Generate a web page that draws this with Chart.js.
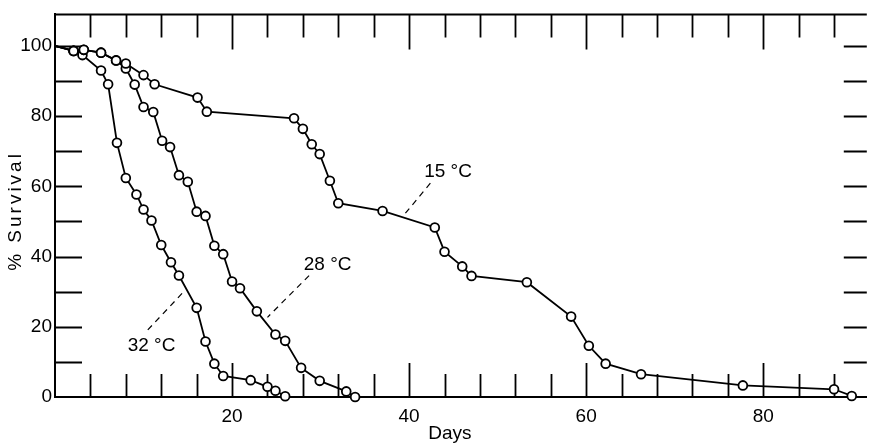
<!DOCTYPE html>
<html><head><meta charset="utf-8">
<script src="https://cdn.jsdelivr.net/npm/chart.js@4"></script>
<style>html,body{margin:0;padding:0;background:#fff}#wrap{width:873px;height:445px;position:relative}</style>
</head><body><div id="wrap"><canvas id="c" width="873" height="445"></canvas></div>
<script>
const seriesNames = ['15 °C', '28 °C', '32 °C'];
const days15 = [0,2.1,3.25,5.2,6.9,8.0,10.0,11.25,16.1,17.15,27.0,28.0,29.0,29.9,31.05,32.0,37.0,42.9,44.0,46.0,47.05,53.3,58.3,60.3,62.2,66.2,77.7,88.0,90.0];
const surv15 = [100,98.6,98.9,98.1,95.9,95.0,91.7,89.1,85.3,81.3,79.4,76.4,72.0,69.2,61.6,55.2,53.0,48.3,41.4,37.2,34.5,32.7,22.9,14.6,9.5,6.5,3.3,2.2,0.3];
const days28 = [0,2.1,3.25,5.2,6.9,8.0,9.0,10.0,11.1,12.1,13.0,14.0,15.0,16.0,17.0,18.0,19.0,20.0,20.9,22.8,24.9,26.0,27.8,29.9,32.9,33.9];
const surv28 = [100,98.6,98.9,98.1,95.9,93.6,89.0,82.6,81.2,73.0,71.2,63.2,61.3,52.8,51.6,43.1,40.7,32.9,31.0,24.4,17.8,16.0,8.3,4.6,1.6,0];
const days32 = [0,2.1,3.1,5.2,6.0,7.0,8.0,9.2,10.0,10.9,12.0,13.1,14.0,16.0,17.0,18.0,19.0,22.1,24.0,24.9,26.0];
const surv32 = [100,98.6,97.4,93.0,89.1,72.4,62.4,57.7,53.4,50.3,43.3,38.4,34.6,25.4,15.8,9.5,6.0,4.8,2.9,1.8,0.2];
const xTickLabels = ['20', '40', '60', '80'];
const yTickLabels = ['0', '20', '40', '60', '80', '100'];
const xAxisTitle = 'Days';
const yAxisTitle = '% Survival';

const FONT = '"Liberation Sans", Arial, sans-serif';

function makeSet(label, xs, ys) {
  return {
    label: label,
    data: xs.map((x, i) => ({x: x, y: ys[i]})),
    borderColor: '#000',
    borderWidth: 1.8,
    pointRadius: xs.map((x, i) => i === 0 ? 0 : 4.4),
    pointBackgroundColor: '#fff',
    pointBorderColor: '#000',
    pointBorderWidth: 1.8,
    tension: 0,
    fill: false,
    clip: false
  };
}

// annotation placement (data units) for the curve labels
const annot = [
  {text: seriesNames[0], tx: 44.4, ty: 64.3, x1: 42.4, y1: 60.9, x2: 39.5, y2: 52.1},
  {text: seriesNames[1], tx: 30.8, ty: 37.7, x1: 28.7, y1: 34.6, x2: 24.0, y2: 22.7},
  {text: seriesNames[2], tx: 10.9, ty: 14.7, x1: 14.35, y1: 29.5, x2: 10.1, y2: 18.1}
];

const framePlugin = {
  id: 'frame',
  beforeDatasetsDraw(chart) {
    const {ctx, chartArea: a, scales: {x: xs, y: ys}} = chart;
    ctx.save();
    ctx.strokeStyle = '#000';
    ctx.lineCap = 'butt';
    ctx.lineWidth = 2;
    ctx.beginPath(); ctx.moveTo(a.left - 1, a.top); ctx.lineTo(a.right, a.top); ctx.stroke();
    ctx.lineWidth = 1.8;
    for (let d = 4; d <= xs.max; d += 4) {
      const px = Math.round(xs.getPixelForValue(d)) + 0.5;
      const major = d % 20 === 0;
      ctx.beginPath();
      ctx.moveTo(px, a.bottom); ctx.lineTo(px, a.bottom - (major ? 34 : 23));
      ctx.moveTo(px, a.top); ctx.lineTo(px, a.top + (major ? 35 : 23));
      ctx.stroke();
    }
    for (let v = 10; v <= 100; v += 10) {
      const py = Math.round(ys.getPixelForValue(v)) + 0.5;
      ctx.beginPath();
      ctx.moveTo(a.left, py); ctx.lineTo(a.left + 27, py);
      ctx.moveTo(a.right - 23, py); ctx.lineTo(a.right, py);
      ctx.stroke();
    }
    ctx.restore();
  },
  afterDraw(chart) {
    const {ctx, chartArea: a, scales: {x: xs, y: ys}} = chart;
    ctx.save();
    ctx.fillStyle = '#000';
    ctx.strokeStyle = '#000';
    ctx.font = '19px ' + FONT;
    ctx.textAlign = 'center';
    ctx.textBaseline = 'middle';
    annot.forEach(n => {
      ctx.fillText(n.text, xs.getPixelForValue(n.tx), ys.getPixelForValue(n.ty));
      ctx.setLineDash([6, 5]);
      ctx.lineWidth = 1.2;
      ctx.beginPath();
      ctx.moveTo(xs.getPixelForValue(n.x1), ys.getPixelForValue(n.y1));
      ctx.lineTo(xs.getPixelForValue(n.x2), ys.getPixelForValue(n.y2));
      ctx.stroke();
      ctx.setLineDash([]);
    });
    ctx.textBaseline = 'alphabetic';
    ctx.fillText(xAxisTitle, xs.getPixelForValue(44.6), a.bottom + 42);
    ctx.translate(21, ys.getPixelForValue(53));
    ctx.rotate(-Math.PI / 2);
    ctx.letterSpacing = '3px';
    ctx.fillText(yAxisTitle, 0, 0);
    ctx.restore();
  }
};

new Chart(document.getElementById('c'), {
  type: 'line',
  data: {datasets: [makeSet(seriesNames[0], days15, surv15), makeSet(seriesNames[1], days28, surv28), makeSet(seriesNames[2], days32, surv32)]},
  options: {
    responsive: false,
    animation: false,
    devicePixelRatio: 1,
    layout: {padding: {top: 12, right: 0, left: 0, bottom: 0}},
    plugins: {legend: {display: false}, tooltip: {enabled: false}, title: {display: false}},
    scales: {
      x: {
        type: 'linear', min: 0, max: 91.7,
        grid: {display: false, drawTicks: false},
        border: {display: true, color: '#000', width: 2},
        ticks: {stepSize: 20, includeBounds: false, autoSkip: false, maxRotation: 0, color: '#000', padding: 8,
          font: {family: FONT, size: 19},
          callback: v => xTickLabels.includes(String(v)) ? String(v) : ''},
        afterFit: s => { s.height = 48; }
      },
      y: {
        type: 'linear', min: 0, max: 109,
        grid: {display: false, drawTicks: false},
        border: {display: true, color: '#000', width: 2},
        ticks: {stepSize: 20, includeBounds: false, autoSkip: false, color: '#000', padding: 3,
          font: {family: FONT, size: 19},
          callback: v => yTickLabels.includes(String(v)) ? String(v) : ''},
        afterFit: s => { s.width = 55; }
      }
    }
  },
  plugins: [framePlugin]
});
</script>
</body></html>
